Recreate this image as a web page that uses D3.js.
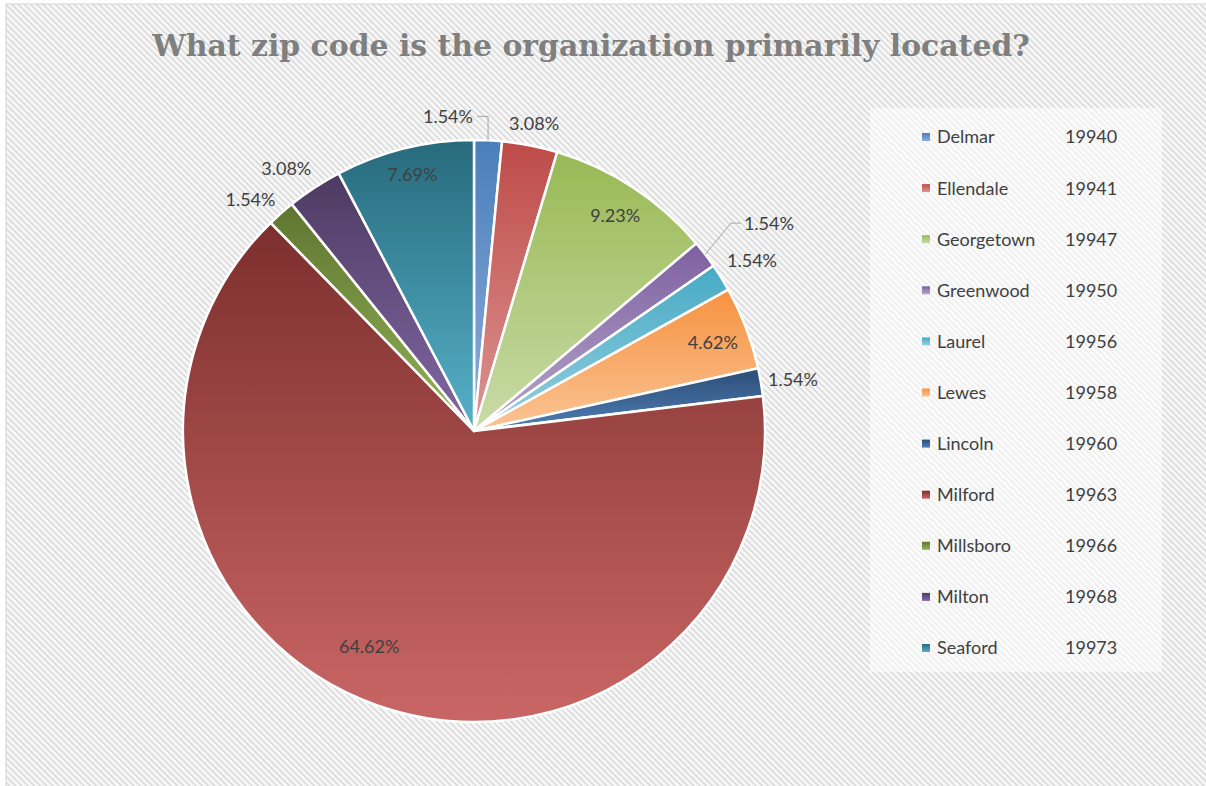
<!DOCTYPE html>
<html>
<head>
<meta charset="utf-8">
<script src="https://cdnjs.cloudflare.com/ajax/libs/d3/7.8.5/d3.min.js"></script>
<style>
    html, body { margin: 0; padding: 0; background: #fff; }
    svg { display: block; }
</style>
</head>
<body>
<svg width="1206" height="786"></svg>
<script>
var cities = ["Delmar", "Ellendale", "Georgetown", "Greenwood", "Laurel", "Lewes",
              "Lincoln", "Milford", "Millsboro", "Milton", "Seaford"];
var zips = ["19940", "19941", "19947", "19950", "19956", "19958",
            "19960", "19963", "19966", "19968", "19973"];
var counts = [1, 2, 6, 1, 1, 3, 1, 42, 1, 2, 5];

// gradient ends per slice (top -> bottom)
var topColors = ["#4a7ebb", "#be4b48", "#98b954", "#7d60a0", "#46aac5", "#f69240",
                 "#2c4d75", "#7c2f2d", "#5f7530", "#4d3b62", "#276a7c"];
var bottomColors = ["#8eaedb", "#dc9593", "#c9dba8", "#b8a8cd", "#97d0df", "#fac495",
                    "#4f7fb7", "#c96665", "#93b458", "#8268a6", "#56b1c9"];

// label placement: radius factor and angle nudge (degrees), leader line
var labelPlace = {
    "Delmar":     {k: 1.085, da: -7.5, leader: true},
    "Ellendale":  {k: 1.075, da: 0},
    "Georgetown": {k: 0.885, da: 0},
    "Greenwood":  {k: 1.24,  da: 2.2, leader: true},
    "Laurel":     {k: 1.12,  da: 0.4},
    "Lewes":      {k: 0.875, da: 0.5},
    "Lincoln":    {k: 1.11,  da: 0.6},
    "Milford":    {k: 0.825, da: 6.5},
    "Millsboro":  {k: 1.105, da: -2.5},
    "Milton":     {k: 1.11,  da: -2.3},
    "Seaford":    {k: 0.905, da: 0.3}
};

var svg = d3.select("svg"),
    cx = 474, cy = 431, radius = 291;

var defs = svg.append("defs");

// background hatch
var hatch = defs.append("pattern")
    .attr("id", "hatch")
    .attr("patternUnits", "userSpaceOnUse")
    .attr("width", 4.4).attr("height", 4.4)
    .attr("patternTransform", "rotate(-45)");
hatch.append("rect").attr("width", 4.4).attr("height", 4.4).attr("fill", "#f8f8f8");
hatch.append("rect").attr("width", 1.8).attr("height", 4.4).attr("fill", "#dcdcdc");

svg.append("rect")
    .attr("x", 6).attr("y", 4)
    .attr("width", 1206).attr("height", 790)
    .attr("fill", "url(#hatch)")
    .attr("stroke", "#d4d4d4")
    .attr("stroke-width", 1);

// gradients
cities.forEach(function (c, i) {
    var g = defs.append("linearGradient")
        .attr("id", "grad" + i)
        .attr("x1", 0).attr("y1", 0).attr("x2", 0).attr("y2", 1);
    g.append("stop").attr("offset", "0%").attr("stop-color", topColors[i]);
    g.append("stop").attr("offset", "100%").attr("stop-color", bottomColors[i]);
});

// title, sized to span the same width as the original
var title = svg.append("text")
    .attr("x", 591).attr("y", 56)
    .attr("text-anchor", "middle")
    .style("font-family", "'DejaVu Serif', serif")
    .style("font-weight", "bold")
    .style("font-size", "30px")
    .style("fill", "#7f7f7f")
    .text("What zip code is the organization primarily located?");
var tw = title.node().getComputedTextLength();
title.style("font-size", (30 * 878 / tw) + "px");

// pie
var total = d3.sum(counts);
var data = cities.map(function (c, i) {
    return {name: c, zip: zips[i], count: counts[i], idx: i};
});

var pie = d3.pie()
    .sort(null)
    .value(function (d) { return d.count; });

var arc = d3.arc().innerRadius(0).outerRadius(radius);

var pieG = svg.append("g").attr("transform", "translate(" + cx + "," + cy + ")");

var arcs = pie(data);

pieG.selectAll("path.slice")
    .data(arcs)
    .enter().append("path")
    .attr("class", "slice")
    .attr("d", arc)
    .attr("fill", function (d) { return "url(#grad" + d.data.idx + ")"; })
    .attr("stroke", "#fff")
    .attr("stroke-width", 2.5)
    .attr("stroke-linejoin", "round");

function polar(angleDeg, r) {
    var a = angleDeg * Math.PI / 180;
    return [r * Math.sin(a), -r * Math.cos(a)];
}

var pctFormat = function (v) { return (v / total * 100).toFixed(2) + "%"; };

var labels = pieG.selectAll("g.lbl")
    .data(arcs)
    .enter().append("g")
    .attr("class", "lbl");

labels.each(function (d) {
    var g = d3.select(this),
        p = labelPlace[d.data.name],
        mid = (d.startAngle + d.endAngle) / 2 * 180 / Math.PI,
        pos = polar(mid + p.da, radius * p.k);

    var t = g.append("text")
        .attr("x", pos[0]).attr("y", pos[1])
        .attr("dy", "0.36em")
        .attr("text-anchor", "middle")
        .style("font", "18px Lato, sans-serif")
        .style("fill", "#404040")
        .text(pctFormat(d.data.count));

    if (p.leader) {
        var w = t.node().getComputedTextLength(),
            edge = polar(mid, radius),
            pts;
        if (pos[0] < edge[0]) {
            // label left of slice: horizontal then down
            var xs = pos[0] + w / 2 + 4;
            pts = [[xs, pos[1]], [edge[0], pos[1]], [edge[0], edge[1]]];
        } else {
            var xl = pos[0] - w / 2 - 3;
            pts = [[edge[0], edge[1]], [xl - 10, pos[1]], [xl, pos[1]]];
        }
        g.append("path")
            .attr("d", d3.line()(pts))
            .attr("fill", "none")
            .attr("stroke", "#a6a6a6")
            .attr("stroke-width", 1);
    }
});

// legend
svg.append("rect")
    .attr("x", 870).attr("y", 108)
    .attr("width", 292).attr("height", 564)
    .attr("fill", "#ffffff")
    .attr("fill-opacity", 0.55);

var legendY = d3.scalePoint()
    .domain(cities)
    .range([137, 648]);

var legend = svg.selectAll("g.legend")
    .data(data)
    .enter().append("g")
    .attr("class", "legend")
    .attr("transform", function (d) { return "translate(0," + legendY(d.name) + ")"; });

legend.append("rect")
    .attr("x", 922).attr("y", -4)
    .attr("width", 8).attr("height", 8)
    .attr("fill", function (d) { return "url(#grad" + d.idx + ")"; });

legend.append("text")
    .attr("x", 937).attr("dy", "0.36em")
    .style("font", "18px Lato, sans-serif")
    .style("fill", "#404040")
    .text(function (d) { return d.name; });

legend.append("text")
    .attr("x", 1065).attr("dy", "0.36em")
    .style("font", "18px Lato, sans-serif")
    .style("fill", "#404040")
    .text(function (d) { return d.zip; });
</script>
</body>
</html>
